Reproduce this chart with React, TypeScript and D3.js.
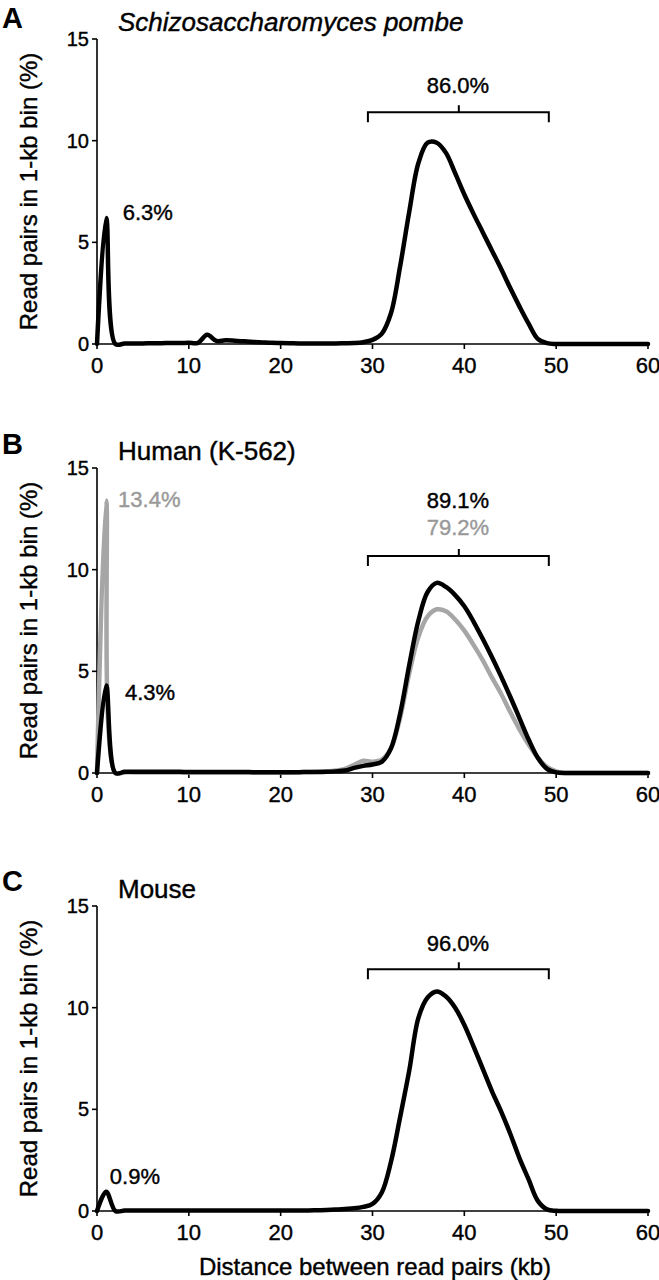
import React from 'react';
import * as d3 from 'd3';

// 1-kb bins along the x axis
const distanceKb = d3.range(0, 61);

// Read pairs per 1-kb bin (%)
const pombeReads = [
  0, 6.2, 0, 0.02, 0.03, 0.03, 0.04, 0.04, 0.05, 0.05,
  0.06, 0.06, 0.45, 0.15, 0.18, 0.16, 0.13, 0.1, 0.08, 0.06,
  0.05, 0.04, 0.03, 0.03, 0.03, 0.03, 0.03, 0.04, 0.05, 0.09,
  0.2, 0.5, 1.5, 3.8, 6.5, 8.9, 9.9, 9.9, 9.4, 8.4,
  7.35, 6.4, 5.5, 4.6, 3.7, 2.75, 1.85, 1.0, 0.25, 0.04,
  0, 0, 0, 0, 0, 0, 0, 0, 0, 0, 0,
];

const humanReads = [
  0, 4.3, 0, 0.06, 0.06, 0.06, 0.06, 0.06, 0.06, 0.06,
  0.05, 0.05, 0.05, 0.05, 0.05, 0.05, 0.05, 0.04, 0.04, 0.04,
  0.04, 0.04, 0.04, 0.05, 0.05, 0.06, 0.08, 0.12, 0.25, 0.35,
  0.42, 0.55, 1.2, 2.9, 5.3, 7.5, 8.9, 9.35, 9.15, 8.75,
  8.2, 7.45, 6.6, 5.7, 4.75, 3.75, 2.7, 1.65, 0.75, 0.2,
  0.03, 0, 0, 0, 0, 0, 0, 0, 0, 0, 0,
];

const humanGreyReads = [
  0, 13.4, 0, 0.03, 0.03, 0.03, 0.03, 0.03, 0.03, 0.03,
  0.03, 0.03, 0.03, 0.03, 0.03, 0.03, 0.03, 0.03, 0.03, 0.03,
  0.03, 0.03, 0.04, 0.05, 0.06, 0.08, 0.12, 0.2, 0.4, 0.6,
  0.55, 0.65, 1.2, 2.7, 4.9, 6.7, 7.7, 8.05, 7.95, 7.55,
  7.0, 6.3, 5.55, 4.7, 3.9, 3.0, 2.15, 1.4, 0.75, 0.3,
  0.08, 0, 0, 0, 0, 0, 0, 0, 0, 0, 0,
];

const mouseReads = [
  0, 0.95, 0, 0.02, 0.02, 0.02, 0.02, 0.02, 0.02, 0.02,
  0.02, 0.02, 0.02, 0.02, 0.02, 0.02, 0.02, 0.02, 0.02, 0.02,
  0.02, 0.02, 0.03, 0.03, 0.04, 0.05, 0.07, 0.1, 0.13, 0.2,
  0.35, 0.9, 2.4, 4.6, 6.9, 9.5, 10.5, 10.8, 10.55, 10.0,
  9.15, 8.1, 7.0, 5.9, 4.9, 3.8, 2.6, 1.55, 0.5, 0.08,
  0.01, 0, 0, 0, 0, 0, 0, 0, 0, 0, 0,
];

const xTicks = [0, 10, 20, 30, 40, 50, 60];
const yTicks = [0, 5, 10, 15];

const panelLetters = ['A', 'B', 'C'];
const panelTitles = ['Schizosaccharomyces pombe', 'Human (K-562)', 'Mouse'];

const BLACK = '#000000';
const GREY = '#a6a6a6';
const GREY_TEXT = '#999999';

const FONT = '"Liberation Sans", Arial, Helvetica, sans-serif';
const WIDTH = 659;
const HEIGHT = 1280;
const AXIS_LEFT = 97;
const AXIS_RIGHT = 648;
const PLOT_H = 305;
const panelZeroY = [344, 773, 1211];

// bracket spanning the ~30-50 kb window
const bracketRange = [29.5, 49.2];
const bracketMid = 39.4;

interface Series { values: number[]; color: string }
interface Note { text: string; x: number; y: number; color: string }

interface PanelProps {
  index: number;
  series: Series[];
  peakNotes: Note[];
  bracketY: number;
  bracketNotes: Note[];
  letterDy: number;
  titleItalic?: boolean;
}

// thin outline so the text reads as heavy as the scanned figure
const heavy = (color: string) => ({ fill: color, stroke: color, strokeWidth: 0.4 });

const Panel: React.FC<PanelProps> = ({ index, series, peakNotes, bracketY, bracketNotes, letterDy, titleItalic }) => {
  const zero = panelZeroY[index];
  const x = d3.scaleLinear().domain([0, 60]).range([AXIS_LEFT, AXIS_RIGHT]);
  const y = d3.scaleLinear().domain([0, 15]).range([zero, zero - PLOT_H]);

  const line = d3.line<number>()
    .x((_, i) => x(distanceKb[i]))
    .y(d => y(d))
    .curve(d3.curveCatmullRom.alpha(0.5));

  const by = y(bracketY);

  return (
    <g fontFamily={FONT}>
      <text x={2} y={y(15) + letterDy} fontSize={29} fontWeight="bold">
        {panelLetters[index]}
      </text>
      <text x={118} y={y(15) - 8} fontSize={26} fontStyle={titleItalic ? 'italic' : 'normal'} {...heavy(BLACK)}>
        {panelTitles[index]}
      </text>

      {/* y axis */}
      <line x1={AXIS_LEFT} x2={AXIS_LEFT} y1={y(15)} y2={y(0)} stroke={BLACK} strokeWidth={1.6} />
      {yTicks.map(t => (
        <g key={'y' + t}>
          <line x1={AXIS_LEFT - 5} x2={AXIS_LEFT} y1={y(t)} y2={y(t)} stroke={BLACK} strokeWidth={1.6} />
          <text x={AXIS_LEFT - 8} y={y(t)} dy="0.35em" textAnchor="end" fontSize={20} {...heavy(BLACK)}>{t}</text>
        </g>
      ))}
      <text
        transform={`translate(37,${y(7.5)}) rotate(-90)`}
        textAnchor="middle" fontSize={24} {...heavy(BLACK)}
      >
        Read pairs in 1-kb bin (%)
      </text>

      {/* x axis */}
      <line x1={AXIS_LEFT} x2={AXIS_RIGHT} y1={zero} y2={zero} stroke={BLACK} strokeWidth={1.6} />
      {xTicks.map(t => (
        <g key={'x' + t}>
          <line x1={x(t)} x2={x(t)} y1={zero} y2={zero + 5} stroke={BLACK} strokeWidth={1.6} />
          <text x={x(t)} y={zero + 29} textAnchor="middle" fontSize={22} {...heavy(BLACK)}>{t}</text>
        </g>
      ))}

      {/* data */}
      {series.map((s, i) => (
        <path key={i} d={line(s.values) || ''} fill="none" stroke={s.color} strokeWidth={4.5}
          strokeLinejoin="round" strokeLinecap="round" />
      ))}

      {/* bracket */}
      <path
        d={`M${x(bracketRange[0])},${by + 10}V${by}H${x(bracketRange[1])}V${by + 10}M${x(bracketMid)},${by}V${by - 7}`}
        fill="none" stroke={BLACK} strokeWidth={2}
      />
      {bracketNotes.map((n, i) => (
        <text key={i} x={x(n.x)} y={y(n.y)} textAnchor="middle" fontSize={22} {...heavy(n.color)}>{n.text}</text>
      ))}
      {peakNotes.map((n, i) => (
        <text key={i} x={x(n.x)} y={y(n.y)} fontSize={22} {...heavy(n.color)}>{n.text}</text>
      ))}
    </g>
  );
};

export default function App() {
  return (
    <div>
      <style>{'body{margin:0}'}</style>
      <svg width={WIDTH} height={HEIGHT} style={{ display: 'block', background: '#fff' }}>
        <Panel
          index={0}
          titleItalic
          letterDy={-11}
          series={[{ values: pombeReads, color: BLACK }]}
          peakNotes={[{ text: '6.3%', x: 2.8, y: 6.1, color: BLACK }]}
          bracketY={11.4}
          bracketNotes={[{ text: '86.0%', x: 39.3, y: 12.33, color: BLACK }]}
        />
        <Panel
          index={1}
          letterDy={-14}
          series={[
            { values: humanGreyReads, color: GREY },
            { values: humanReads, color: BLACK },
          ]}
          peakNotes={[
            { text: '13.4%', x: 2.3, y: 13.1, color: GREY_TEXT },
            { text: '4.3%', x: 3.05, y: 3.6, color: BLACK },
          ]}
          bracketY={10.67}
          bracketNotes={[
            { text: '89.1%', x: 39.3, y: 13.04, color: BLACK },
            { text: '79.2%', x: 39.3, y: 11.7, color: GREY_TEXT },
          ]}
        />
        <Panel
          index={2}
          letterDy={-15}
          series={[{ values: mouseReads, color: BLACK }]}
          peakNotes={[{ text: '0.9%', x: 1.4, y: 1.33, color: BLACK }]}
          bracketY={11.89}
          bracketNotes={[{ text: '96.0%', x: 39.3, y: 12.78, color: BLACK }]}
        />
        <text x={375} y={1275} textAnchor="middle" fontSize={24} fontFamily={FONT}
          fill={BLACK} stroke={BLACK} strokeWidth={0.4}>
          Distance between read pairs (kb)
        </text>
      </svg>
    </div>
  );
}
